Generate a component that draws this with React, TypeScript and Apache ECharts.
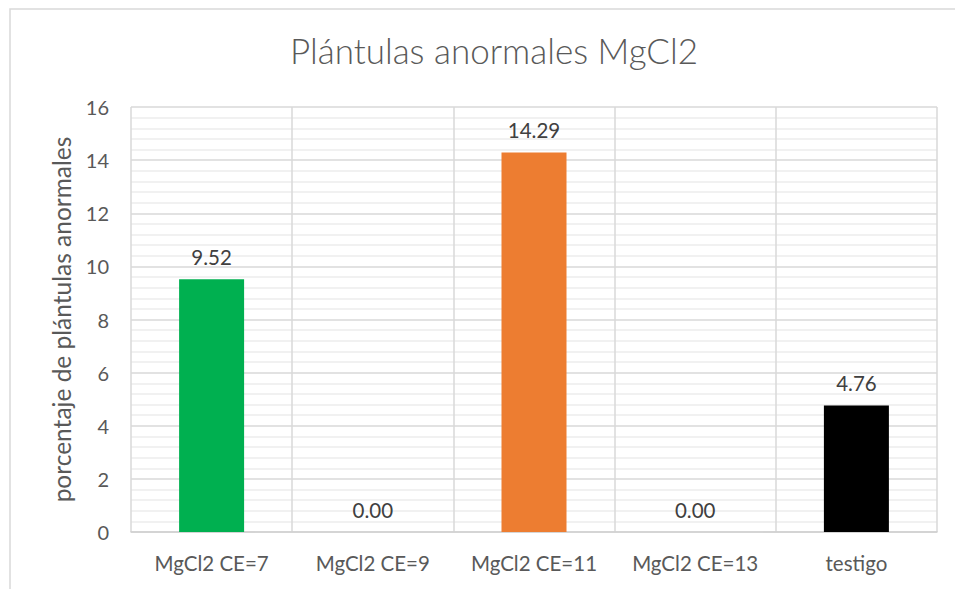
import React, { useEffect, useRef } from "react";
import * as echarts from "echarts";

const categories = ["MgCl2 CE=7", "MgCl2 CE=9", "MgCl2 CE=11", "MgCl2 CE=13", "testigo"];
const values = [9.52, 0.0, 14.29, 0.0, 4.76];
const barColors = ["#00B050", "#ED7D31", "#ED7D31", "#ED7D31", "#000000"];
const titleText = "Plántulas anormales MgCl2";
const yAxisTitle = "porcentaje de plántulas anormales";

export default function App() {
  const ref = useRef<HTMLDivElement>(null);
  useEffect(() => {
    if (!ref.current) return;
    const chart = echarts.init(ref.current, null, { renderer: "svg" });
    const font = "Lato, 'Open Sans', sans-serif";
    chart.setOption({
      animation: false,
      backgroundColor: "#ffffff",
      textStyle: { fontFamily: font },
      title: {
        text: titleText,
        left: 489,
        top: 27,
        textAlign: "center",
        textStyle: { fontFamily: font, fontSize: 35, fontWeight: 300, color: "#595959" },
      },
      graphic: [
        {
          type: "rect",
          shape: { x: 10, y: 9, width: 1000, height: 700 },
          style: { fill: "none", stroke: "#d9d9d9", lineWidth: 1.5 },
          silent: true,
        },
      ],
      grid: { left: 131, right: 18, top: 107, bottom: 57, containLabel: false },
      xAxis: {
        type: "category",
        data: categories,
        axisLine: { show: true, lineStyle: { color: "#d0d0d0", width: 1.5 } },
        axisTick: { show: false },
        splitLine: { show: true, interval: 0, lineStyle: { color: "#d9d9d9", width: 1.5 } },
        axisLabel: { color: "#595959", fontSize: 20.5, margin: 20, interval: 0, fontFamily: font },
      },
      yAxis: {
        type: "value",
        min: 0,
        max: 16,
        interval: 2,
        name: yAxisTitle,
        nameLocation: "middle",
        nameGap: 57,
        nameTextStyle: { color: "#595959", fontSize: 24.5, fontFamily: font },
        axisLine: { show: false },
        axisTick: { show: false },
        axisLabel: { color: "#595959", fontSize: 20, margin: 22, fontFamily: font },
        splitLine: { show: true, lineStyle: { color: "#d9d9d9", width: 1.5 } },
        minorTick: { show: false, splitNumber: 5 },
        minorSplitLine: { show: true, lineStyle: { color: "#ececec", width: 1.5 } },
      },
      series: [
        {
          type: "bar",
          barWidth: 65,
          data: values.map((v, i) => ({ value: v, itemStyle: { color: barColors[i] } })),
          label: {
            show: true,
            position: "top",
            distance: 12,
            color: "#404040",
            fontSize: 20.5,
            fontFamily: font,
            formatter: (p: any) => Number(p.value).toFixed(2),
          },
        },
      ],
    });
    return () => chart.dispose();
  }, []);
  return (
    <div
      ref={ref}
      style={{ position: "fixed", left: 0, top: 0, width: 955, height: 589 }}
    />
  );
}
